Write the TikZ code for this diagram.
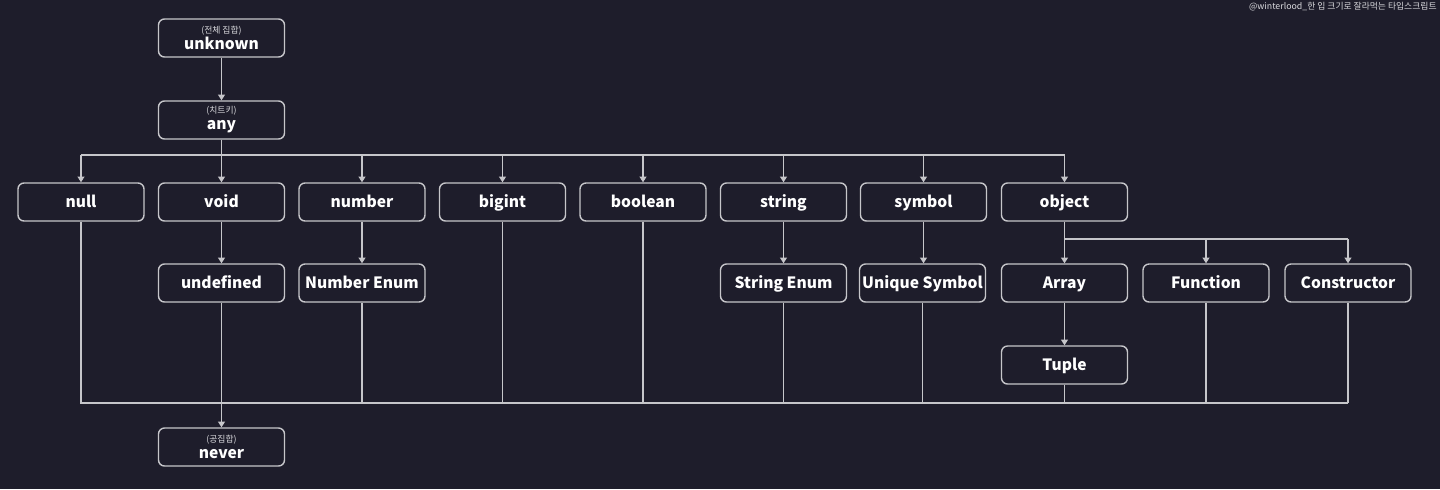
\documentclass[tikz,border=0pt]{standalone}
\usepackage{fontspec}
\setmainfont{Noto Sans CJK KR}
\usetikzlibrary{arrows.meta}
\definecolor{bgnavy}{HTML}{1E1D2B}
\definecolor{linegray}{HTML}{C6C6CA}
\definecolor{notegray}{HTML}{D8D8DC}

\tikzset{
  basebox/.style={draw=linegray, line width=0.7pt, rounded corners=3pt, fill=bgnavy,
    minimum width=63pt, minimum height=19pt, inner sep=0pt, align=center,
    text=white, font=\bfseries\fontsize{7.8}{8.2}\selectfont},
  typebox/.style={basebox, text height=6.4pt, text depth=0.9pt},
  link/.style={draw=linegray, line width=0.55pt},
  tip/.style={link, -{Triangle[width=3.4pt,length=2.8pt]}},
}
\newcommand{\setnote}[1]{{\mdseries\fontsize{4.4}{5}\selectfont\color{notegray}#1}\\[-0.2pt]}

\begin{document}
\begin{tikzpicture}[x=0.5pt, y=-0.5pt]
	% Background and margins
	\fill[bgnavy] (0,0) rectangle (1440,489);
	\useasboundingbox (0,0) rectangle (1440,489);
	\node[anchor=north east, inner sep=0pt, text=notegray, font=\fontsize{4.4}{5}\selectfont] (credit) at (1437,2) {@winterlood\_한 입 크기로 잘라먹는 타입스크립트};

	% Top of the hierarchy
	\node[basebox] (unknown) at (221.5,38) {\setnote{(전체 집합)}unknown};
	\node[basebox] (any) at (221.5,120) {\setnote{(치트키)}any};

	% First level types
	\node[typebox] (null) at (81,202) {null};
	\node[typebox] (void) at (221.5,202) {void};
	\node[typebox] (number) at (362,202) {number};
	\node[typebox] (bigint) at (502.5,202) {bigint};
	\node[typebox] (boolean) at (643,202) {boolean};
	\node[typebox] (string) at (783.5,202) {string};
	\node[typebox] (symbol) at (923.5,202) {symbol};
	\node[typebox] (object) at (1064.5,202) {object};

	% Second level types
	\node[typebox] (undefined) at (221.5,283) {undefined};
	\node[typebox] (numenum) at (362,283) {Number Enum};
	\node[typebox] (strenum) at (783.5,283) {String Enum};
	\node[typebox] (uniqsym) at (922.5,283) {Unique Symbol};
	\node[typebox] (array) at (1064.5,283) {Array};
	\node[typebox] (function) at (1206,283) {Function};
	\node[typebox] (constructor) at (1348,283) {Constructor};
	\node[typebox] (tuple) at (1064.5,365) {Tuple};

	% Bottom of the hierarchy
	\node[basebox] (never) at (221.5,447) {\setnote{(공집합)}never};

	% Bus lines
	\coordinate (topbus) at (0,155);
	\coordinate (objbus) at (0,239);
	\coordinate (lowbus) at (0,403);

	% From unknown down to the first level
	\draw[tip] (unknown) -- (any);
	\draw[link] (any.south) -- (any.south |- topbus);
	\draw[link] (null.north |- topbus) -- (object.north |- topbus);
	\draw[tip] (null.north |- topbus) -- (null.north);
	\draw[tip] (void.north |- topbus) -- (void.north);
	\draw[tip] (number.north |- topbus) -- (number.north);
	\draw[tip] (bigint.north |- topbus) -- (bigint.north);
	\draw[tip] (boolean.north |- topbus) -- (boolean.north);
	\draw[tip] (string.north |- topbus) -- (string.north);
	\draw[tip] (symbol.north |- topbus) -- (symbol.north);
	\draw[tip] (object.north |- topbus) -- (object.north);

	% First level to second level
	\draw[tip] (void) -- (undefined);
	\draw[tip] (number) -- (numenum);
	\draw[tip] (string) -- (strenum);
	\draw[tip] (symbol.south) -- (symbol.south |- uniqsym.north);
	\draw[link] (object.south) -- (object.south |- objbus) -- (constructor.north |- objbus);
	\draw[tip] (array.north |- objbus) -- (array.north);
	\draw[tip] (function.north |- objbus) -- (function.north);
	\draw[tip] (constructor.north |- objbus) -- (constructor.north);
	\draw[tip] (array) -- (tuple);

	% Everything down to never
	\draw[link] (null.south) -- (null.south |- lowbus) -- (constructor.south |- lowbus);
	\draw[link] (numenum.south) -- (numenum.south |- lowbus);
	\draw[link] (bigint.south) -- (bigint.south |- lowbus);
	\draw[link] (boolean.south) -- (boolean.south |- lowbus);
	\draw[link] (strenum.south) -- (strenum.south |- lowbus);
	\draw[link] (uniqsym.south) -- (uniqsym.south |- lowbus);
	\draw[link] (tuple.south) -- (tuple.south |- lowbus);
	\draw[link] (function.south) -- (function.south |- lowbus);
	\draw[link] (constructor.south) -- (constructor.south |- lowbus);
	\draw[tip] (undefined) -- (never);
\end{tikzpicture}
\end{document}
